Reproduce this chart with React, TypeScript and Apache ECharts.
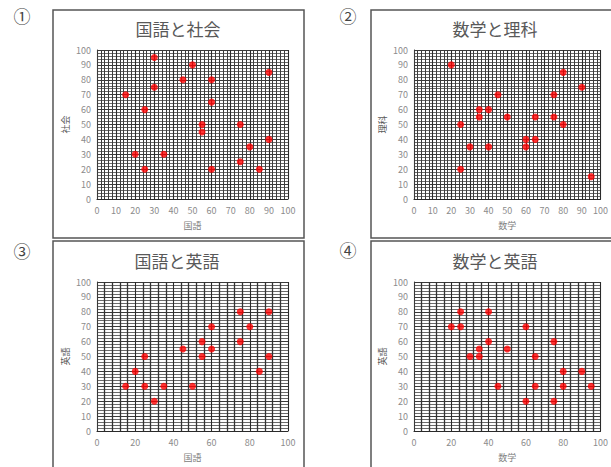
import React, { useEffect, useRef } from "react";
import * as echarts from "echarts";

const titles = ["国語と社会", "数学と理科", "国語と英語", "数学と英語"];
const xNames = ["国語", "数学", "国語", "数学"];
const yNames = ["社会", "理科", "英語", "英語"];
const marks = ["①", "②", "③", "④"];
const xIntervals = [10, 10, 20, 20];

const x1 = [15, 20, 25, 25, 30, 30, 35, 45, 50, 55, 55, 60, 60, 60, 75, 75, 80, 85, 90, 90];
const y1 = [70, 30, 60, 20, 95, 75, 30, 80, 90, 50, 45, 80, 65, 20, 50, 25, 35, 20, 85, 40];
const x2 = [20, 25, 25, 30, 35, 35, 40, 40, 45, 50, 60, 60, 65, 65, 75, 75, 80, 80, 90, 95];
const y2 = [90, 50, 20, 35, 60, 55, 60, 35, 70, 55, 40, 35, 55, 40, 70, 55, 85, 50, 75, 15];
const x3 = [15, 20, 25, 25, 30, 35, 45, 50, 55, 55, 60, 60, 75, 75, 80, 85, 90, 90];
const y3 = [30, 40, 50, 30, 20, 30, 55, 30, 60, 50, 70, 55, 80, 60, 70, 40, 80, 50];
const x4 = [20, 25, 25, 30, 35, 35, 40, 40, 45, 50, 60, 60, 65, 65, 75, 75, 80, 80, 90, 95];
const y4 = [70, 80, 70, 50, 55, 50, 80, 60, 30, 55, 70, 20, 50, 30, 60, 20, 40, 30, 40, 30];

const xsList = [x1, x2, x3, x4];
const ysList = [y1, y2, y3, y4];

const FONT = "'Noto Sans CJK JP', 'Noto Sans', sans-serif";

export default function App() {
  const ref = useRef<HTMLDivElement>(null);
  useEffect(() => {
    if (!ref.current) return;
    const chart = echarts.init(ref.current, undefined, { renderer: "svg" });

    const grids = [
      { left: 97, top: 50, width: 191, height: 149 },
      { left: 414, top: 50, width: 190, height: 149 },
      { left: 97, top: 282, width: 191, height: 149 },
      { left: 414, top: 282, width: 190, height: 149 },
    ];
    const boxes = [
      { x: 53, y: 10, width: 251, height: 228 },
      { x: 371, y: 10, width: 251, height: 228 },
      { x: 53, y: 241, width: 251, height: 240 },
      { x: 371, y: 241, width: 251, height: 240 },
    ];
    const titlePos = [
      [178, 28],
      [495, 28],
      [177, 260],
      [495, 260],
    ];
    const markPos = [
      [22, 15],
      [348, 15],
      [22, 250],
      [348, 249],
    ];

    const vMajor = { color: "#2a2a2a", width: 1.1 };
    const vMinor = { color: "#3c3c3c", width: 1 };
    const hMajor = { color: "#3a3a3a", width: 1 };
    const hMinor = { color: "#5a5a5a", width: 0.9 };
    const labelStyle = { color: "#8c8c8c", fontSize: 9, fontFamily: FONT };

    const xAxis = grids.map((_, i) => ({
      type: "value",
      gridIndex: i,
      min: 0,
      max: 100,
      interval: xIntervals[i],
      name: xNames[i],
      nameLocation: "middle",
      nameGap: 22,
      nameTextStyle: { color: "#808080", fontSize: 9, fontFamily: FONT },
      axisLine: { show: true, lineStyle: vMajor },
      axisTick: { show: false },
      axisLabel: { ...labelStyle, margin: 7 },
      splitLine: { show: true, lineStyle: vMajor },
      minorTick: { show: false, splitNumber: 5 },
      minorSplitLine: { show: true, lineStyle: i >= 2 ? { color: "#333333", width: 1.3 } : vMinor },
    }));
    const yAxis = grids.map((_, i) => ({
      type: "value",
      gridIndex: i,
      min: 0,
      max: 100,
      interval: 10,
      name: yNames[i],
      nameLocation: "middle",
      nameGap: 27,
      nameRotate: 90,
      nameTextStyle: { color: "#595959", fontSize: 9, fontFamily: FONT },
      axisLine: { show: true, lineStyle: hMajor },
      axisTick: { show: false },
      axisLabel: { ...labelStyle, margin: 6 },
      splitLine: { show: true, lineStyle: hMajor },
      minorTick: { show: false, splitNumber: 5 },
      minorSplitLine: { show: true, lineStyle: hMinor },
    }));
    const series = grids.map((_, i) => ({
      type: "scatter",
      xAxisIndex: i,
      yAxisIndex: i,
      symbol: "circle",
      symbolSize: 7,
      itemStyle: { color: "#ff0000" },
      data: xsList[i].map((x, j) => [x, ysList[i][j]]),
    }));

    const graphic: any[] = [];
    boxes.forEach((b) => {
      graphic.push({
        type: "rect",
        shape: b,
        style: { fill: "none", stroke: "#555555", lineWidth: 1.5 },
        z: 0,
      });
    });
    titles.forEach((t, i) => {
      graphic.push({
        type: "text",
        x: titlePos[i][0],
        y: titlePos[i][1],
        style: {
          text: t,
          textAlign: "center",
          textVerticalAlign: "middle",
          fontSize: 17,
          fontFamily: FONT,
          fill: "#595959",
        },
      });
    });
    marks.forEach((m, i) => {
      graphic.push({
        type: "text",
        x: markPos[i][0],
        y: markPos[i][1],
        style: {
          text: m,
          textAlign: "center",
          textVerticalAlign: "middle",
          fontSize: 17,
          fontFamily: "'Noto Sans CJK JP', 'DejaVu Serif', serif",
          fill: "#444444",
        },
      });
    });

    chart.setOption({
      animation: false,
      backgroundColor: "#ffffff",
      grid: grids,
      xAxis,
      yAxis,
      series,
      graphic,
    } as any);
    return () => chart.dispose();
  }, []);
  return (
    <div
      ref={ref}
      style={{ position: "fixed", left: 0, top: 0, width: 611, height: 467 }}
    />
  );
}
